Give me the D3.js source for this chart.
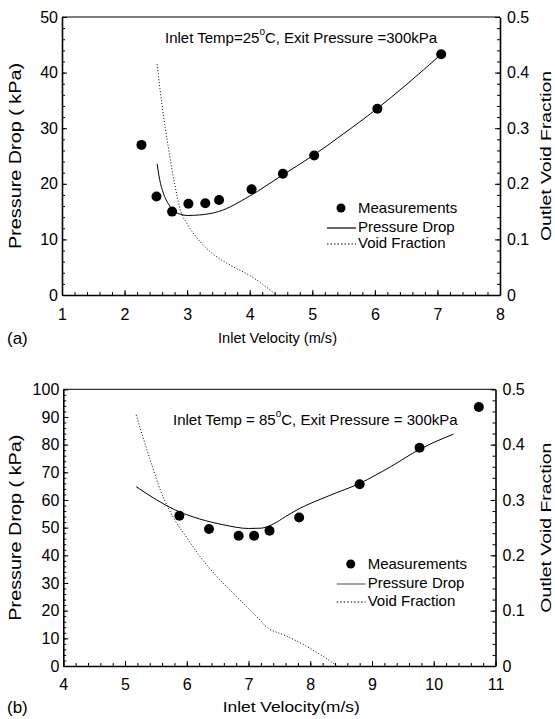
<!DOCTYPE html>
<html>
<head>
<meta charset="utf-8">
<script src="https://cdn.jsdelivr.net/npm/d3@7"></script>
<style>
  body { margin: 0; background: #fff; }
  svg { font-family: "Liberation Sans", Arial, Helvetica, sans-serif; }
  .axis path, .axis line { stroke: #000; }
  .axis text { font-size: 16px; fill: #000; }
</style>
</head>
<body>
<div id="chart"></div>
<script>
// panel (a): inlet temp 25C
var velA = [2.27, 2.51, 2.76, 3.02, 3.29, 3.51, 4.03, 4.53, 5.03, 6.04, 7.06];
var dpA = [27.0, 17.7, 15.0, 16.4, 16.5, 17.1, 19.0, 21.8, 25.1, 33.5, 43.3];
var lineVelA = [2.52, 2.56, 2.62, 2.70, 2.80, 2.90, 3.00, 3.20, 3.50, 4.00, 4.50, 5.00, 5.50, 6.00, 6.50, 7.06];
var lineDpA = [23.6, 20.8, 18.3, 16.4, 15.0, 14.5, 14.3, 14.4, 15.0, 17.8, 21.4, 25.0, 29.0, 33.2, 37.8, 43.3];
var voidVelA = [2.52, 2.60, 2.70, 2.80, 2.90, 3.00, 3.20, 3.40, 3.70, 4.00, 4.20, 4.42];
var voidA = [0.415, 0.34, 0.265, 0.20, 0.15, 0.128, 0.097, 0.075, 0.053, 0.035, 0.02, 0];

// panel (b): inlet temp 85C
var velB = [5.88, 6.36, 6.84, 7.09, 7.34, 7.82, 8.80, 9.77, 10.73];
var dpB = [54.3, 49.5, 47.1, 47.1, 48.9, 53.7, 65.7, 78.9, 93.6];
var lineVelB = [5.18, 5.50, 5.80, 6.20, 6.60, 7.00, 7.20, 7.40, 7.60, 7.80, 8.30, 8.80, 9.30, 9.77, 10.32];
var lineDpB = [64.8, 60.2, 56.5, 53.2, 51.0, 49.7, 49.8, 51.3, 54.0, 56.6, 61.5, 66.0, 72.0, 78.3, 83.8];
var voidVelB = [5.18, 5.40, 5.60, 5.80, 6.00, 6.20, 6.50, 6.80, 7.10, 7.30, 7.60, 7.90, 8.20, 8.43];
var voidB = [0.454, 0.375, 0.31, 0.265, 0.232, 0.20, 0.16, 0.126, 0.093, 0.07, 0.055, 0.038, 0.018, 0];

var xTicksA = [1, 2, 3, 4, 5, 6, 7, 8];
var yTicksA = [0, 10, 20, 30, 40, 50];
var xTicksB = [4, 5, 6, 7, 8, 9, 10, 11];
var yTicksB = [0, 10, 20, 30, 40, 50, 60, 70, 80, 90, 100];
var voidTicks = [0, 0.1, 0.2, 0.3, 0.4, 0.5];
var legendLabels = ["Measurements", "Pressure Drop", "Void Fraction"];

var svg = d3.select('#chart').append('svg')
    .attr('width', 555)
    .attr('height', 719);

function minorTicks(lo, hi, step) {
  var out = [];
  for (var v = lo; v <= hi + 1e-9; v += step) out.push(+v.toFixed(4));
  return out;
}

function drawPanel(p) {
  var x = d3.scaleLinear().domain([p.xTicks[0], p.xTicks[p.xTicks.length - 1]]).range([p.left, p.right]);
  var y = d3.scaleLinear().domain([0, p.yTicks[p.yTicks.length - 1]]).range([p.bottom, p.top]);
  var y2 = d3.scaleLinear().domain([0, 0.5]).range([p.bottom, p.top]);
  var g = svg.append('g');

  // minor ticks
  g.append('g').attr('class', 'axis').attr('transform', 'translate(' + p.left + ',0)')
      .call(d3.axisLeft(y).tickValues(minorTicks(0, y.domain()[1], 2)).tickSize(-3).tickSizeOuter(0).tickFormat(''))
      .select('.domain').remove();
  g.append('g').attr('class', 'axis').attr('transform', 'translate(' + p.right + ',0)')
      .call(d3.axisRight(y2).tickValues(minorTicks(0, 0.5, 0.02)).tickSize(-3).tickSizeOuter(0).tickFormat(''))
      .select('.domain').remove();
  g.append('g').attr('class', 'axis').attr('transform', 'translate(0,' + p.bottom + ')')
      .call(d3.axisBottom(x).tickValues(minorTicks(x.domain()[0], x.domain()[1], 0.2)).tickSize(-3).tickSizeOuter(0).tickFormat(''))
      .select('.domain').remove();

  // major axes
  g.append('g').attr('class', 'axis').attr('transform', 'translate(' + p.left + ',0)')
      .call(d3.axisLeft(y).tickValues(p.yTicks).tickSize(-5).tickSizeOuter(0).tickPadding(4).tickFormat(d3.format('d')))
      .select('.domain').attr('stroke-width', 1.6);
  g.append('g').attr('class', 'axis').attr('transform', 'translate(' + p.right + ',0)')
      .call(d3.axisRight(y2).tickValues(voidTicks).tickSize(-5).tickSizeOuter(0).tickPadding(7)
        .tickFormat(function(d) { return d === 0 ? '0' : d.toFixed(1); }))
      .select('.domain').attr('stroke-width', 1.6);
  g.append('g').attr('class', 'axis').attr('transform', 'translate(0,' + p.bottom + ')')
      .call(d3.axisBottom(x).tickValues(p.xTicks).tickSize(-5).tickSizeOuter(0).tickPadding(p.xPad).tickFormat(d3.format('d')))
      .select('.domain').attr('stroke-width', 1.6);
  g.append('line')
      .attr('x1', p.left).attr('x2', p.right).attr('y1', p.top).attr('y2', p.top)
      .attr('stroke', '#000').attr('stroke-width', 1);

  // curves
  var dp = d3.line().x(function(d) { return x(d[0]); }).y(function(d) { return y(d[1]); }).curve(d3.curveMonotoneX);
  var vf = d3.line().x(function(d) { return x(d[0]); }).y(function(d) { return y2(d[1]); }).curve(d3.curveMonotoneX);
  g.append('path')
      .datum(d3.zip(p.voidVel, p.voidVals))
      .attr('d', vf).attr('fill', 'none').attr('stroke', '#000')
      .attr('stroke-width', 1).attr('stroke-dasharray', '1,2');
  g.append('path')
      .datum(d3.zip(p.lineVel, p.lineDp))
      .attr('d', dp).attr('fill', 'none').attr('stroke', '#000').attr('stroke-width', 1);
  g.selectAll('circle.pt')
      .data(d3.zip(p.vel, p.dp))
    .enter().append('circle')
      .attr('class', 'pt')
      .attr('cx', function(d) { return x(d[0]); })
      .attr('cy', function(d) { return y(d[1]); })
      .attr('r', 5);

  // annotation
  var t = g.append('text').attr('x', p.noteX).attr('y', p.noteY).attr('font-size', 15);
  t.append('tspan').text(p.note[0]);
  t.append('tspan').attr('dy', -8).attr('font-size', 10).text('o');
  t.append('tspan').attr('dy', 8).text(p.note[1]);

  // legend
  var lg = g.append('g');
  lg.selectAll('text').data(legendLabels).enter().append('text')
      .attr('x', p.legX)
      .attr('y', function(d, i) { return p.legY[i]; })
      .attr('dy', '0.36em')
      .attr('font-size', 15)
      .text(function(d) { return d; });
  lg.append('circle').attr('cx', p.legX - 17).attr('cy', p.legY[0]).attr('r', 4.5);
  lg.append('line').attr('x1', p.legX - 31).attr('x2', p.legX - 2)
      .attr('y1', p.legY[1] + 1).attr('y2', p.legY[1] + 1)
      .attr('stroke', p.legLineColor).attr('stroke-width', 1.2);
  lg.append('line').attr('x1', p.legX - 31).attr('x2', p.legX - 2)
      .attr('y1', p.legY[2] + 1).attr('y2', p.legY[2] + 1)
      .attr('stroke', '#000').attr('stroke-width', 1).attr('stroke-dasharray', '1.5,2');

  // axis titles
  var midY = (p.top + p.bottom) / 2;
  g.append('text')
      .attr('transform', 'translate(15,' + midY + ') rotate(-90)')
      .attr('text-anchor', 'middle').attr('dy', '0.35em')
      .attr('font-size', 16).attr('textLength', 186).attr('lengthAdjust', 'spacingAndGlyphs')
      .text('Pressure Drop ( kPa)');
  g.append('text')
      .attr('transform', 'translate(546,' + midY + ') rotate(-90)')
      .attr('text-anchor', 'middle').attr('dy', '0.35em')
      .attr('font-size', 15).attr('textLength', 170).attr('lengthAdjust', 'spacingAndGlyphs')
      .text('Outlet Void Fraction');
  g.append('text')
      .attr('x', p.xTitleX).attr('y', p.xTitleY).attr('dy', '0.35em')
      .attr('font-size', 15).attr('textLength', p.xTitleLen).attr('lengthAdjust', 'spacingAndGlyphs')
      .text(p.xTitle);
  g.append('text')
      .attr('x', 7).attr('y', p.xTitleY).attr('dy', '0.35em')
      .attr('font-size', 17)
      .text(p.tag);
}

drawPanel({
  left: 62, right: 500, top: 17, bottom: 295, xPad: 14,
  xTicks: xTicksA, yTicks: yTicksA,
  vel: velA, dp: dpA, lineVel: lineVelA, lineDp: lineDpA, voidVel: voidVelA, voidVals: voidA,
  note: ['Inlet Temp=25', 'C, Exit Pressure =300kPa'], noteX: 165, noteY: 43,
  legX: 358, legY: [208, 227, 243], legLineColor: '#000',
  xTitle: 'Inlet Velocity (m/s)', xTitleX: 218, xTitleY: 338, xTitleLen: 119, tag: '(a)'
});

drawPanel({
  left: 63.3, right: 495.5, top: 389.3, bottom: 666, xPad: 13,
  xTicks: xTicksB, yTicks: yTicksB,
  vel: velB, dp: dpB, lineVel: lineVelB, lineDp: lineDpB, voidVel: voidVelB, voidVals: voidB,
  note: ['Inlet Temp = 85', 'C, Exit Pressure = 300kPa'], noteX: 173, noteY: 425,
  legX: 367.7, legY: [564, 583, 601], legLineColor: '#666',
  xTitle: 'Inlet Velocity(m/s)', xTitleX: 222.7, xTitleY: 707, xTitleLen: 137, tag: '(b)'
});
</script>
</body>
</html>
